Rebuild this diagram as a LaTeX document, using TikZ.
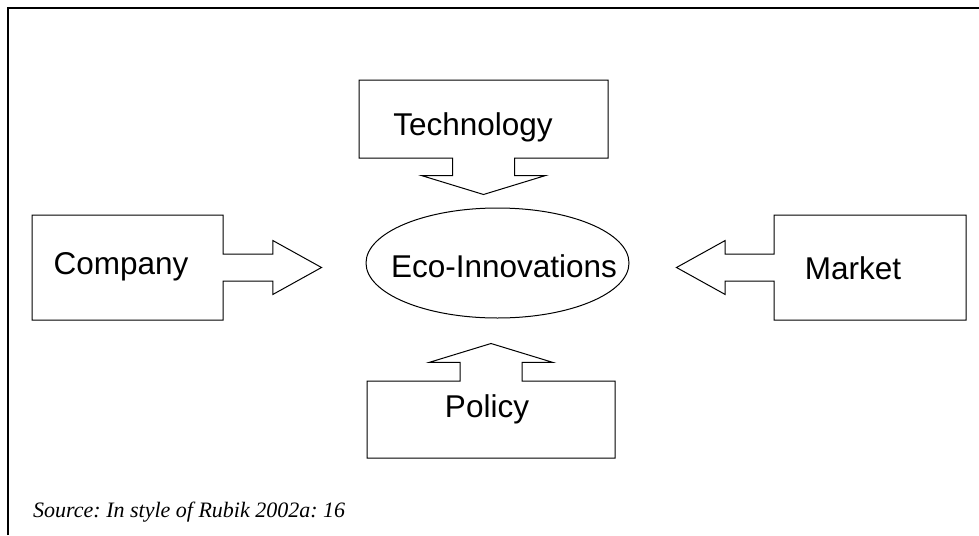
\documentclass[tikz,border=0pt]{standalone}
\usepackage{fontspec}
\setmainfont{Liberation Sans}
\newfontfamily\srcfont{Liberation Serif}
\usetikzlibrary{shapes.geometric,shapes.arrows}
\frenchspacing

\tikzset{
  callbox/.style={arrow box, draw, line width=1pt, inner sep=0pt, arrow box head indent=0pt},
  thinarrow/.style={arrow box shaft width=27pt, arrow box head extend=13.5pt, arrow box tip angle=58},
  widearrow/.style={arrow box shaft width=62pt, arrow box head extend=31pt, arrow box tip angle=146},
  boxtext/.style={anchor=base, inner sep=0pt, font=\fontsize{31.5}{36}\selectfont},
  srctext/.style={anchor=base west, inner sep=0pt, font=\srcfont\itshape\fontsize{22}{26}\selectfont}
}

\begin{document}
\begin{tikzpicture}[x=1pt,y=-1pt]
  \useasboundingbox (0,0) rectangle (979,535);
  % frame
  \draw[line width=1.5pt] (8,535) -- (8,8) -- (979,8);

  % boxes with their arrows
  \node[callbox, widearrow, minimum width=249pt, minimum height=78pt,
        arrow box arrows={south:36pt from border}] (tech) at (483.5,119) {};
  \node[callbox, thinarrow, minimum width=191pt, minimum height=105pt,
        arrow box arrows={east:98pt from border}] (comp) at (127.5,267.5) {};
  \node[callbox, thinarrow, minimum width=192pt, minimum height=105pt,
        arrow box arrows={west:97pt from border}] (mark) at (870,267.5) {};
  \node[callbox, widearrow, minimum width=248pt, minimum height=77pt,
        arrow box arrows={north:37pt from border}] (poli) at (491,419.5) {};

  % centre
  \node[ellipse, draw, line width=1pt, inner sep=0pt,
        minimum width=263pt, minimum height=110pt] (eco) at (497.5,263) {};

  % texts
  \node[boxtext] (techtext) at (473,135) {Technology};
  \node[boxtext] (comptext) at (121,274) {Company};
  \node[boxtext] (marktext) at (853,279) {Market};
  \node[boxtext] (politext) at (487,417) {Policy};
  \node[boxtext] (ecotext) at (504,277) {Eco-Innovations};

  \node[srctext] (source) at (33,517) {Source: In style of Rubik 2002a: 16};
\end{tikzpicture}
\end{document}
